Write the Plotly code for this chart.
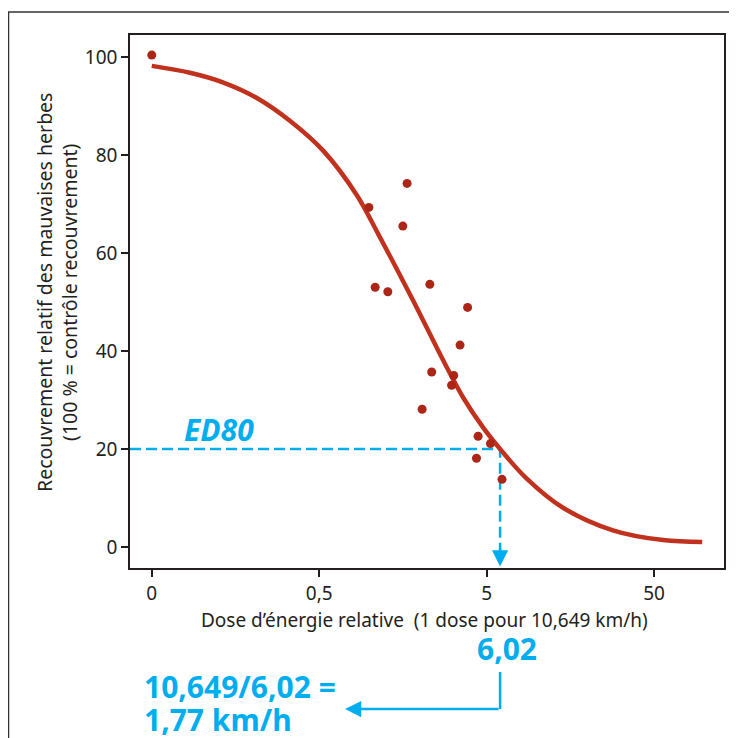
import numpy as np
import plotly.graph_objects as go

# ---------------- data ----------------
# Observed points (relative dose; the control "0" is drawn at 0.05 on the log axis)
obs_dose = [0.05, 0.99, 1.675, 1.58, 1.08, 1.285, 2.29, 3.85, 3.47, 2.35, 3.18,
            3.09, 2.06, 4.45, 5.27, 4.35, 6.18]
obs_resp = [100.4, 69.3, 74.2, 65.5, 53.0, 52.1, 53.6, 48.9, 41.2, 35.7, 35.0,
            33.0, 28.1, 22.6, 21.1, 18.1, 13.8]

# Fitted dose-response curve
curve_dose = [0.05, 0.0846, 0.134, 0.211, 0.334, 0.528, 0.836, 1.125, 1.435,
              1.82, 2.29, 2.85, 3.62, 4.76, 6.02, 8.65, 14.3, 28.4, 56.6, 97.0]
curve_resp = [98.2, 96.8, 94.8, 91.7, 87.0, 80.9, 71.9, 63.9, 57.1,
              50.3, 43.5, 37.1, 30.5, 24.4, 20.0, 14.0, 8.0, 3.4, 1.4, 1.0]

ED80_DOSE = 6.02
ED80_RESP = 20

x_tickvals = [0.05, 0.5, 5, 50]
x_ticktext = ["0", "0,5", "5", "50"]
y_tickvals = [0, 20, 40, 60, 80, 100]

# ---------------- layout constants ----------------
OFF = 8                      # page body margin
W, H = 737 - OFF, 738 - OFF
ML, MR, MT, MB = 130 - OFF, 13, 35 - OFF, 170
PW, PH = W - ML - MR, H - MT - MB
XMIN, XMAX = -1.431, 2.117
YMIN, YMAX = -4.3, 104.5

RED_LINE = "rgb(192,50,30)"
RED_PT = "rgb(172,38,24)"
CYAN = "#00AEEF"
INK = "#231F20"
FONT = "Noto Sans"


def px(x):
    """page pixel x -> paper x"""
    return (x - OFF - ML) / PW


def py(y):
    """page pixel y -> paper y"""
    return (MT + PH - (y - OFF)) / PH


def xdata_paper(d):
    return (np.log10(d) - XMIN) / (XMAX - XMIN)


fig = go.Figure()

# ED80 dashed guide lines
fig.add_trace(go.Scatter(
    x=[10 ** XMIN, ED80_DOSE, ED80_DOSE], y=[ED80_RESP, ED80_RESP, -0.5],
    mode="lines", line=dict(color=CYAN, width=2.5, dash="11px,5px"),
    hoverinfo="skip", showlegend=False))

fig.add_trace(go.Scatter(
    x=curve_dose, y=curve_resp, mode="lines",
    line=dict(color=RED_LINE, width=4.5, shape="spline", smoothing=1.0),
    showlegend=False))

fig.add_trace(go.Scatter(
    x=obs_dose, y=obs_resp, mode="markers",
    marker=dict(color=RED_PT, size=9), cliponaxis=False, showlegend=False))

axis_common = dict(showline=True, mirror=True, linecolor=INK, linewidth=1.5,
                   ticks="outside", ticklen=7, tickwidth=1.5, tickcolor=INK,
                   showgrid=False, zeroline=False,
                   tickfont=dict(family=FONT, size=19, color=INK))

fig.update_layout(
    width=W, height=H,
    margin=dict(l=ML, r=MR, t=MT, b=MB),
    paper_bgcolor="white", plot_bgcolor="white",
    xaxis=dict(type="log", range=[XMIN, XMAX], tickvals=x_tickvals,
               ticktext=x_ticktext, **axis_common),
    yaxis=dict(range=[YMIN, YMAX], tickvals=y_tickvals, **axis_common),
    showlegend=False,
)

ann = []
# axis titles
ann.append(dict(x=px(424), y=py(620), xref="paper", yref="paper",
                text="Dose d’énergie relative  (1 dose pour 10,649 km/h)",
                showarrow=False, xanchor="center", yanchor="middle",
                font=dict(family=FONT, size=19, color=INK)))
ann.append(dict(x=px(57), y=py(293), xref="paper", yref="paper",
                text="Recouvrement relatif des mauvaises herbes<br>(100 % = contrôle recouvrement)",
                showarrow=False, textangle=-90, xanchor="center", yanchor="middle",
                font=dict(family=FONT, size=19.5, color=INK)))
# ED80 label
ann.append(dict(x=px(219), y=py(429), xref="paper", yref="paper",
                text="<b><i>ED80</i></b>", showarrow=False,
                xanchor="center", yanchor="middle",
                font=dict(family=FONT, size=30, color=CYAN)))
# arrowhead at bottom of dashed vertical
ann.append(dict(x=np.log10(ED80_DOSE), y=-4.0, xref="x", yref="y",
                text="", showarrow=True, arrowhead=2, arrowsize=1.3,
                arrowwidth=2.5, arrowcolor=CYAN, ax=0, ay=-20))
# 6,02 label
ann.append(dict(x=px(507), y=py(648), xref="paper", yref="paper",
                text="<b>6,02</b>", showarrow=False,
                xanchor="center", yanchor="middle",
                font=dict(family=FONT, size=30, color=CYAN)))
# result text
ann.append(dict(x=px(142), y=py(686), xref="paper", yref="paper",
                text="<b>10,649/6,02 =</b>", showarrow=False,
                xanchor="left", yanchor="middle",
                font=dict(family=FONT, size=30, color=CYAN)))
ann.append(dict(x=px(142), y=py(719), xref="paper", yref="paper",
                text="<b>1,77 km/h</b>", showarrow=False,
                xanchor="left", yanchor="middle",
                font=dict(family=FONT, size=30, color=CYAN)))
# left-pointing arrow
xe = xdata_paper(ED80_DOSE)
ann.append(dict(x=px(345), y=py(709), xref="paper", yref="paper",
                text="", showarrow=True, arrowhead=2, arrowsize=1.3,
                arrowwidth=2.5, arrowcolor=CYAN,
                ax=(xe * PW + ML + OFF) - 345, ay=0))
fig.update_layout(annotations=ann)

shapes = [
    # connector vertical segment
    dict(type="line", xref="paper", yref="paper", x0=xe, x1=xe,
         y0=py(672), y1=py(709), line=dict(color=CYAN, width=2.5)),
    # outer frame (left and top edges)
    dict(type="line", xref="paper", yref="paper", x0=px(8.5), x1=px(8.5),
         y0=py(12), y1=py(760), line=dict(color="#333333", width=1.5)),
    dict(type="line", xref="paper", yref="paper", x0=px(8), x1=px(760),
         y0=py(12), y1=py(12), line=dict(color="#333333", width=1.5)),
]
fig.update_layout(shapes=shapes)

fig.write_html("out.html")
